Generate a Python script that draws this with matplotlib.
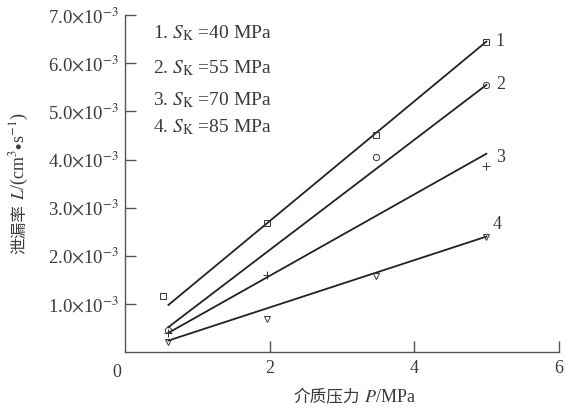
import matplotlib
matplotlib.use("Agg")
import matplotlib.pyplot as plt

plt.rcParams['mathtext.fontset'] = 'stix'
plt.rcParams['font.family'] = ['Liberation Serif', 'Noto Sans CJK SC', 'DejaVu Sans']

# Measured data points (x: MPa, y: 1e-3 cm^3/s)
x1 = [0.53, 1.97, 3.47, 4.99]
y1 = [1.16, 2.68, 4.50, 6.45]
x2 = [0.6, 3.47, 4.99]
y2 = [0.45, 4.05, 5.55]
x3 = [0.6, 1.97, 4.99]
y3 = [0.40, 1.60, 3.87]
x4 = [0.6, 1.97, 3.47, 4.99]
y4 = [0.22, 0.69, 1.58, 2.40]

# Fitted line end points
fit_x = [0.6, 5.0]
fit1 = [0.98, 6.45]
fit2 = [0.52, 5.55]
fit3 = [0.40, 4.12]
fit4 = [0.24, 2.40]

legend_lines = [r"1. $S_{\mathrm{K}}$ =40 MPa", r"2. $S_{\mathrm{K}}$ =55 MPa",
                r"3. $S_{\mathrm{K}}$ =70 MPa", r"4. $S_{\mathrm{K}}$ =85 MPa"]
curve_labels = ["1", "2", "3", "4"]
label_pos_x = [5.13, 5.13, 5.13, 5.08]
label_pos_y = [6.45, 5.55, 4.05, 2.65]

xticks = [2, 4, 6]
yticks = [1, 2, 3, 4, 5, 6, 7]

TXT = '#3a3a3a'
fig = plt.figure(figsize=(5.66, 4.08), dpi=100)
ax = fig.add_axes([0.221, 0.137, 0.766, 0.826])

col = '#222222'
for fy in (fit1, fit2, fit3, fit4):
    ax.plot(fit_x, [v * 1e-3 for v in fy], color=col, lw=1.3)

mk = dict(ls='none', mfc='none', mec='#333333', mew=0.7, ms=4.5)
ax.plot(x1, [v * 1e-3 for v in y1], marker='s', **mk)
ax.plot(x2, [v * 1e-3 for v in y2], marker='o', **mk)
ax.plot(x3, [v * 1e-3 for v in y3], marker='+', **dict(mk, ms=6))
ax.plot(x4, [v * 1e-3 for v in y4], marker='v', **mk)

for t, lx, ly in zip(curve_labels, label_pos_x, label_pos_y):
    ax.text(lx, ly * 1e-3, t, fontsize=13, color=TXT, va='center', ha='left')

leg_y = [0.945, 0.842, 0.748, 0.668]
for t, yy in zip(legend_lines, leg_y):
    ax.text(0.065, yy, t, transform=ax.transAxes, fontsize=14, color=TXT, va='center')

ax.set_xlim(0, 6)
ax.set_ylim(0, 7e-3)
ax.set_xticks(xticks)
ax.set_xticklabels([str(t) for t in xticks])
ax.set_yticks([t * 1e-3 for t in yticks])
ax.set_yticklabels([r"%d.0$\times$10$^{-3}$" % t for t in yticks])
ax.text(-0.01, -0.035, "0", transform=ax.transAxes, fontsize=13, color=TXT, ha='right', va='top')

for s in ('top', 'right'):
    ax.spines[s].set_visible(False)
for s in ('left', 'bottom'):
    ax.spines[s].set_color('#555555')
    ax.spines[s].set_linewidth(1.0)
ax.tick_params(direction='in', length=8, width=1.0, color='#555555', labelcolor=TXT)
ax.tick_params(axis='y', labelsize=13.5, pad=4)
ax.tick_params(axis='x', labelsize=13, pad=6)

CJK = ['Noto Sans CJK SC', 'DejaVu Sans']


def seq_text(pieces, center, rotation=0):
    """Place text pieces one after another, centred on `center` (figure px)."""
    renderer = fig.canvas.get_renderer()
    objs = []
    for s, props in pieces:
        t = fig.text(0, 0, s, transform=None, rotation=rotation, rotation_mode='anchor',
                     ha='left', va='baseline', color=TXT, **props)
        objs.append(t)
    sizes = []
    for t in objs:
        bb = t.get_window_extent(renderer)
        sizes.append(bb.height if rotation else bb.width)
    total = sum(sizes)
    cx, cy = center
    pos = -total / 2
    for t, sz in zip(objs, sizes):
        if rotation:
            t.set_position((cx, cy + pos))
        else:
            t.set_position((cx + pos, cy))
        pos += sz


seq_text([("介质压力", dict(family=CJK, fontsize=12)),
          (r" $P$/MPa", dict(fontsize=13))], (355, 408 - 402))
seq_text([("泄漏率", dict(family=CJK, fontsize=12)),
          (r" $L$/(cm$^{3}$$\bullet$s$^{-1}$)", dict(fontsize=13))], (24, 408 - 183), rotation=90)

fig.savefig("out.png", dpi=100)
